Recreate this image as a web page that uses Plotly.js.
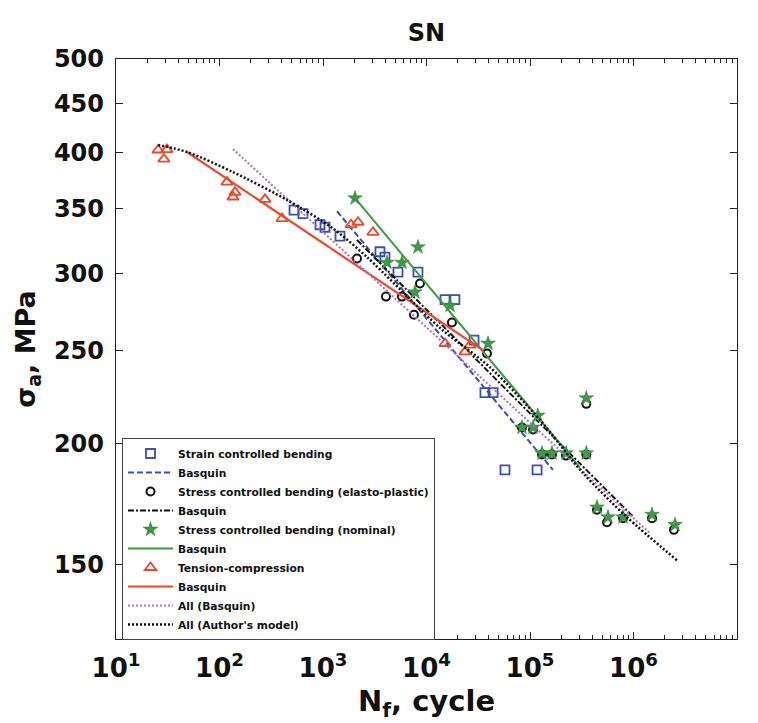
<!DOCTYPE html>
<html>
<head>
<meta charset="utf-8">
<script src="https://cdn.plot.ly/plotly-3.0.1.min.js"></script>
<style>html,body{margin:0;padding:0;background:#fff;}#chart{width:758px;height:723px;}</style>
</head>
<body>
<div id="chart"></div>
<script>
// Strain controlled bending (squares)
const strainN = [525, 640, 935, 1045, 1460, 3550, 3970, 5300, 8270, 15100, 18800, 28800, 36700, 44000, 57300, 117000];
const strainS = [349, 346, 337, 335, 328, 316, 312, 301, 301, 282, 282, 256, 226, 226, 188, 188];
const strainFitN = [1365, 166700];
const strainFitS = [348, 188];

// Stress controlled bending (elasto-plastic) (circles)
const epN = [2130, 4060, 5800, 8650, 7570, 17600, 38400, 83700, 107000, 130600, 163000, 223000, 350000, 350000, 444000, 555000, 792000, 1510000, 2460000];
const epS = [311, 284, 284, 293, 272, 267, 248, 208, 207, 195, 195, 194.5, 195, 220, 171, 166, 167.6, 167.6, 163];
const epFitN = [2130, 1000000];
const epFitS = [325, 168];

// Stress controlled bending (nominal) (stars)
const nomN = [2040, 4150, 5800, 8270, 7740, 16900, 39300, 119000, 83700, 107000, 130600, 163000, 223000, 350000, 350000, 444000, 567000, 792000, 1510000, 2520000];
const nomS = [359, 308, 308, 319.5, 287, 278, 254, 214, 208, 208, 195.6, 195.6, 195.6, 195.6, 223, 172, 168, 168, 169, 165];
const nomFitN = [2040, 304000];
const nomFitS = [359, 189];

// Tension-compression (triangles)
const tcN = [25.5, 31, 29, 118, 141, 135, 275, 402, 1866, 2178, 3040, 15100, 23550, 26300];
const tcS = [402.6, 403, 394, 373, 364, 360, 358, 342, 337, 339, 331, 254, 249, 253];
const tcFitN = [48.5, 35100];
const tcFitS = [400.7, 250];

// All (Basquin)
const allFitN = [135, 1443000];
const allFitS = [403.5, 161.7];

// All (Author's model)
const authN = [25.5, 48.5, 135, 449, 1250, 2660, 13500, 41100, 125000, 325000, 865000, 2630000];
const authS = [407.5, 400.7, 382, 357.5, 334, 312, 263.6, 240, 211.7, 186.6, 168, 151.6];

// Axis ticks
const xTickVals = [10, 100, 1000, 10000, 100000, 1000000, 10000000];
const xTickText = ['10<sup>1</sup>', '10<sup>2</sup>', '10<sup>3</sup>', '10<sup>4</sup>', '10<sup>5</sup>', '10<sup>6</sup>', '10<sup>7</sup>'];
const yTickVals = [150, 200, 250, 300, 350, 400, 450, 500];
const yTickText = ['150', '200', '250', '300', '350', '400', '450', '500'];

const minorX = [];
for (let d = 1; d < 7; d++) for (let k = 2; k <= 9; k++) minorX.push(k * Math.pow(10, d));

const BLUE = '#3b4fb5', RED = '#ea4a2c', GREEN = '#3f9a45', PURPLE = '#b86bc4', BLACK = '#111111';

const traces = [
  {x: strainN, y: strainS, mode: 'markers', name: 'Strain controlled bending',
   marker: {symbol: 'square-open', size: 9, color: BLUE, line: {width: 1.8, color: BLUE}}},
  {x: strainFitN, y: strainFitS, mode: 'lines', name: 'Basquin',
   line: {color: BLUE, width: 2, dash: '6px,3px'}},
  {x: epN, y: epS, mode: 'markers', name: 'Stress controlled bending (elasto-plastic)',
   marker: {symbol: 'circle-open', size: 8, color: BLACK, line: {width: 2, color: BLACK}}},
  {x: epFitN, y: epFitS, mode: 'lines', name: 'Basquin',
   line: {color: BLACK, width: 2, dash: '6px,2px,2px,2px'}},
  {x: nomN, y: nomS, mode: 'markers', name: 'Stress controlled bending (nominal)',
   marker: {symbol: 'star', size: 11, color: GREEN, line: {width: 0.5, color: '#2d7a33'}}},
  {x: nomFitN, y: nomFitS, mode: 'lines', name: 'Basquin',
   line: {color: GREEN, width: 2}},
  {x: tcN, y: tcS, mode: 'markers', name: 'Tension-compression',
   marker: {symbol: 'triangle-up-open', size: 10, color: RED, line: {width: 1.8, color: RED}}},
  {x: tcFitN, y: tcFitS, mode: 'lines', name: 'Basquin',
   line: {color: RED, width: 2.2}},
  {x: allFitN, y: allFitS, mode: 'lines', name: 'All (Basquin)',
   line: {color: PURPLE, width: 2, dash: '2px,2px'}},
  {x: authN, y: authS, mode: 'lines', name: "All (Author's model)",
   line: {color: BLACK, width: 2.5, dash: '2px,2px', shape: 'spline', smoothing: 0.8}}
];

const axisCommon = {
  showgrid: false, zeroline: false, showline: true, linecolor: '#222', linewidth: 1.2,
  mirror: 'ticks', ticks: 'inside', tickcolor: '#222', ticklen: 7, tickwidth: 1
};

const layout = {
  width: 758, height: 723,
  margin: {l: 116, r: 21, t: 59, b: 84},
  paper_bgcolor: '#fff', plot_bgcolor: '#fff',
  font: {family: 'DejaVu Sans, sans-serif', color: '#111'},
  title: {text: 'SN', font: {family: 'DejaVu Sans', size: 24, weight: 'bold', color: '#111'},
          x: 0.5, xref: 'paper', xanchor: 'center', y: 1 - 33 / 723, yref: 'container', yanchor: 'middle'},
  xaxis: Object.assign({}, axisCommon, {
    type: 'log', range: [1, 7], tickmode: 'array', tickvals: xTickVals, ticktext: xTickText,
    tickfont: {family: 'DejaVu Sans', size: 26, weight: 'bold', color: '#111'},
    ticklabelstandoff: 6,
    minor: {tickmode: 'array', tickvals: minorX, ticks: 'inside', ticklen: 4, tickcolor: '#222', tickwidth: 1},
    title: {text: 'N<sub>f</sub>, cycle', font: {family: 'DejaVu Sans', size: 29, weight: 'bold', color: '#111'}, standoff: 8},
    automargin: false
  }),
  yaxis: Object.assign({}, axisCommon, {
    type: 'log', range: [Math.log10(125.7), Math.log10(500)], tickmode: 'array', tickvals: yTickVals, ticktext: yTickText,
    tickfont: {family: 'DejaVu Sans', size: 24, weight: 'bold', color: '#111'},
    ticklabelstandoff: 6,
    title: {text: 'σ<sub>a</sub>, MPa', font: {family: 'DejaVu Sans', size: 27, weight: 'bold', color: '#111'}, standoff: 10},
    automargin: false
  }),
  legend: {
    x: (122 - 116) / 621, y: (639 - 438) / 580, xanchor: 'left', yanchor: 'top',
    bgcolor: '#fff', bordercolor: '#444', borderwidth: 1,
    font: {family: 'DejaVu Sans', size: 10.7, weight: 'bold', color: '#111'},
    itemwidth: 45, tracegroupgap: 0
  },
  showlegend: true
};

Plotly.newPlot('chart', traces, layout, {displayModeBar: false, staticPlot: true});
</script>
</body>
</html>
